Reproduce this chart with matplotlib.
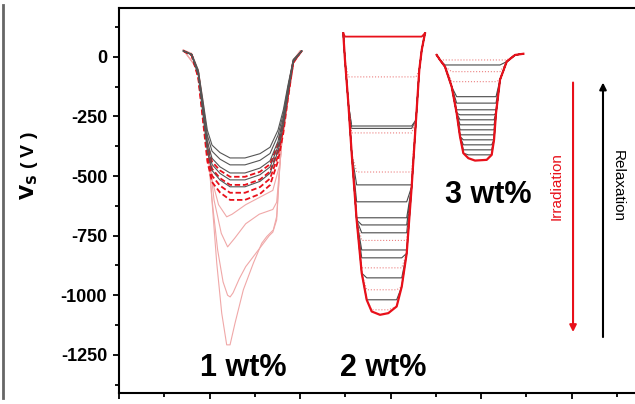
import numpy as np
import matplotlib
matplotlib.use('Agg')
import matplotlib.pyplot as plt
from matplotlib.lines import Line2D
from matplotlib.ticker import MultipleLocator

plt.rcParams['font.family'] = ['Liberation Sans', 'DejaVu Sans']

# ---- 1 wt% : U-shaped family (shape) ----
x_1wt_profile = [0.711, 0.803, 0.876, 0.932, 0.976, 1.028, 1.116, 1.227, 1.392,
                 1.558, 1.669, 1.757, 1.816, 1.867, 1.926, 2.019]
f_1wt_profile = [0.0, 0.03, 0.18, 0.49, 0.74, 0.88, 0.95, 1.0, 1.0,
                 0.96, 0.90, 0.74, 0.55, 0.32, 0.08, 0.0]
top_1wt = 25
depth_1wt_black = [-424, -453, -487, -516, -545]
depth_1wt_red = [-503, -537, -570, -600]

# 1 wt% : deep faint red curves
x_1wt_c = [0.711, 0.876, 0.976, 1.03, 1.10, 1.19, 1.25, 1.40, 1.55, 1.70, 1.78,
           1.816, 1.871, 1.926, 2.019]
y_1wt_c = [29, -55, -348, -520, -620, -671, -660, -620, -590, -560, -446,
           -278, -125, -13, 22]
x_1wt_d = [0.711, 0.876, 0.976, 1.05, 1.13, 1.20, 1.28, 1.40, 1.55, 1.70, 1.742,
           1.779, 1.816, 1.871, 1.926, 2.019]
y_1wt_d = [29, -55, -348, -600, -740, -797, -760, -700, -660, -640, -610,
           -446, -278, -125, -13, 22]
x_1wt_e = [0.711, 0.876, 0.976, 1.028, 1.09, 1.15, 1.20, 1.228, 1.26, 1.33, 1.40,
           1.49, 1.58, 1.66, 1.70, 1.742, 1.779, 1.816, 1.871, 1.926, 2.019]
y_1wt_e = [29, -55, -348, -600, -810, -944, -1000, -1007, -990, -930, -880,
           -835, -790, -750, -735, -684, -446, -278, -125, -13, 22]
x_1wt_f = [0.711, 0.803, 0.876, 0.932, 0.976, 1.024, 1.080, 1.135, 1.190, 1.227,
           1.282, 1.374, 1.485, 1.577, 1.632, 1.705, 1.742, 1.779, 1.816, 1.871,
           1.926, 2.0, 2.019]
y_1wt_f = [29, 15, -55, -194, -348, -586, -865, -1075, -1208, -1208,
           -1117, -977, -865, -782, -754, -726, -670, -446, -278, -125,
           -13, 26, 22]

# ---- 2 wt% : outer envelope (deepest curve) and flat levels ----
x_2wt_env = [2.478, 2.497, 2.534, 2.571, 2.626, 2.682, 2.737, 2.792, 2.884,
             2.976, 3.068, 3.124, 3.179, 3.234, 3.282, 3.318, 3.345, 3.381]
y_2wt_env = [99, -13, -194, -404, -684, -907, -1019, -1068, -1082,
             -1075, -1047, -964, -824, -544, -264, -55, 29, 99]
level_2wt = [85, -84, -290, -300, -319, -483, -537, -608, -675, -705, -738,
             -770, -810, -843, -885, -927, -977, -1019, -1061]
kind_2wt = ['r', 'rd', 'k', 'k', 'rd', 'rd', 'k', 'k', 'k', 'k', 'k',
            'rd', 'k', 'k', 'rd', 'k', 'rd', 'k', 'rd']

# ---- 3 wt% ----
x_3wt_env = [3.510, 3.547, 3.602, 3.676, 3.731, 3.768, 3.805, 3.860, 3.934,
             4.063, 4.118, 4.144, 4.166, 4.210, 4.284, 4.376, 4.468]
y_3wt_env = [8, -13, -41, -125, -236, -334, -404, -425, -435,
             -432, -411, -348, -236, -96, -20, 8, 13]
level_3wt = [-13, -34, -62, -104, -167, -194, -222, -243, -264, -285,
             -306, -327, -348, -369, -390, -411]
kind_3wt = ['rd', 'k', 'rd', 'rd', 'k', 'k', 'k', 'k', 'k', 'k',
            'k', 'k', 'k', 'k', 'k', 'k']

y_ticks = [0, -250, -500, -750, -1000, -1250]

RED = '#e8101a'
styles = {
    'k': dict(color='#4a4a4a', lw=0.8, ls='-'),
    'rd': dict(color='#ec8080', lw=0.8, ls=':'),
    'r': dict(color=RED, lw=1.3, ls='-'),
}

fig = plt.figure(figsize=(6.35, 4.04), dpi=100)
ax = fig.add_axes([119 / 635, 11 / 404, 516 / 635, 385 / 404])

# 1 wt%
for xs, ys in [(x_1wt_c, y_1wt_c), (x_1wt_d, y_1wt_d), (x_1wt_e, y_1wt_e), (x_1wt_f, y_1wt_f)]:
    ax.plot(xs, ys, color='#f0a8a8', lw=0.8)
prof = np.array(f_1wt_profile)
for d in depth_1wt_red:
    ax.plot(x_1wt_profile, top_1wt + prof * (d - top_1wt), color=RED, lw=1.3, ls=(0, (3, 1.5)))
for d in depth_1wt_black:
    ax.plot(x_1wt_profile, top_1wt + prof * (d - top_1wt), color='#555555', lw=0.8)

# 2 wt%
env2 = np.array(y_2wt_env)
for lev, k in zip(level_2wt, kind_2wt):
    ax.plot(x_2wt_env, np.maximum(env2, lev), **styles[k])
ax.plot(x_2wt_env, env2, color=RED, lw=1.6)

# 3 wt%
env3 = np.array(y_3wt_env)
for lev, k in zip(level_3wt, kind_3wt):
    ax.plot(x_3wt_env, np.maximum(env3, lev), **styles[k])
ax.plot(x_3wt_env, env3, color=RED, lw=1.6)

# arrows and labels
ax.annotate('', xy=(5.017, -1166), xytext=(5.017, -96),
            arrowprops=dict(arrowstyle='-|>', color=RED, lw=1.5, mutation_scale=10))
ax.annotate('', xy=(5.348, -96), xytext=(5.348, -1187),
            arrowprops=dict(arrowstyle='-|>', color='black', lw=1.5, mutation_scale=10))
ax.text(4.840, -541, 'Irradiation', rotation=90, color=RED, fontsize=11,
        ha='center', va='center')
ax.text(5.514, -541, 'Relaxation', rotation=-90, color='black', fontsize=11,
        ha='center', va='center')

ax.text(1.370, -1305, '1 wt%', fontsize=22, fontweight='bold', ha='center', va='center')
ax.text(2.917, -1305, '2 wt%', fontsize=22, fontweight='bold', ha='center', va='center')
ax.text(4.077, -579, '3 wt%', fontsize=22, fontweight='bold', ha='center', va='center')

ax.set_xlim(0, 516 / 90.5)
ax.set_ylim(-1410, 205)
ax.set_yticks(y_ticks)
ax.set_yticklabels([str(v) for v in y_ticks], fontsize=13, fontweight='bold')
ax.yaxis.set_minor_locator(MultipleLocator(125))
ax.xaxis.set_major_locator(MultipleLocator(1))
ax.xaxis.set_minor_locator(MultipleLocator(0.5))
ax.set_xticklabels([])
ax.tick_params(which='major', length=4.5, width=1.3, direction='out', pad=4)
ax.tick_params(which='minor', length=3, width=1.3, direction='out')
ax.spines['right'].set_visible(False)
for s in ['left', 'top', 'bottom']:
    ax.spines[s].set_linewidth(1.5)

ax.set_ylabel(r'$\mathbf{V_S}$ ( V )', fontsize=14, fontweight='bold')
ax.yaxis.set_label_coords(-0.153, 0.592)

fig.add_artist(Line2D([3 / 635, 3 / 635], [1 - 5 / 404, 1 - 398 / 404],
                      color='#666666', lw=2, transform=fig.transFigure))

fig.savefig('out.png', dpi=100)
